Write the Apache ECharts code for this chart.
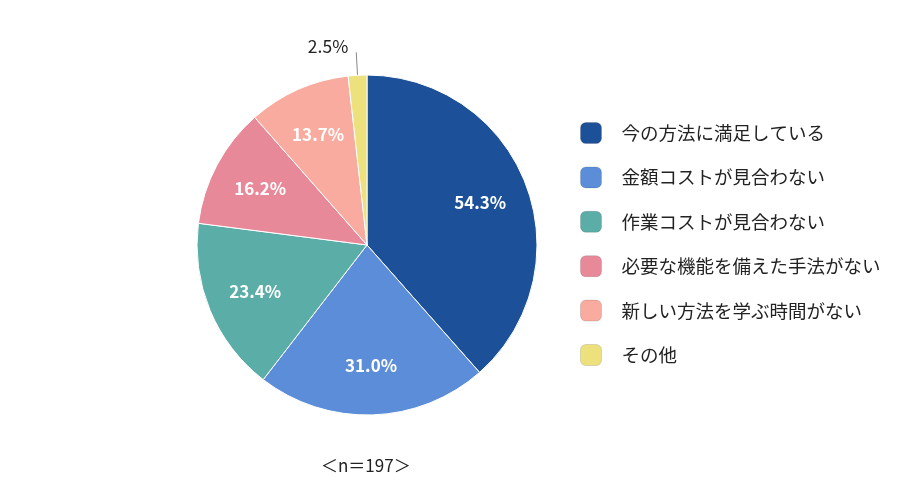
<!DOCTYPE html>
<html><head><meta charset="utf-8">
<script src="https://cdn.jsdelivr.net/npm/echarts@6/dist/echarts.min.js"></script>
<style>html,body{margin:0;padding:0;background:#fff}#c{width:900px;height:503px}</style>
</head><body><div id="c"></div>
<script>
const categories = ['今の方法に満足している','金額コストが見合わない','作業コストが見合わない','必要な機能を備えた手法がない','新しい方法を学ぶ時間がない','その他'];
const values = [54.3, 31.0, 23.4, 16.2, 13.7, 2.5];
const colors = ['#1c5199','#5b8dd8','#5bada7','#e8899a','#f9aba0','#ede17d'];
const note = '＜n＝197＞';

const chart = echarts.init(document.getElementById('c'));
const font = '"Noto Sans CJK JP", "Noto Sans", sans-serif';
const center = [367, 245];
const R = 170;

const mainData = categories.map((name, i) => ({
  name, value: values[i],
  itemStyle: { color: colors[i] },
  label: { show: i === categories.length - 1 },
  labelLine: { show: i === categories.length - 1 }
}));
const overlayData = categories.map((name, i) => ({
  name, value: values[i],
  label: { show: i !== categories.length - 1 }
}));

chart.setOption({
  animation: false,
  textStyle: { fontFamily: font },
  legend: {
    orient: 'vertical', left: 575, top: 117,
    itemWidth: 21, itemHeight: 21, itemGap: 22.4,
    icon: 'roundRect',
    data: categories,
    itemStyle: { borderColor: 'rgba(0,0,0,0.12)', borderWidth: 1 },
    textStyle: { fontSize: 18.5, lineHeight: 21, color: '#222', fontFamily: font, padding: [0, 0, 0, 15] }
  },
  graphic: [{
    type: 'text', left: 367 - 46, top: 457,
    style: { text: note, fontSize: 17, fill: '#222', fontFamily: font }
  }],
  series: [{
    type: 'pie', center, radius: [0, R], startAngle: 90, clockwise: true,
    data: mainData,
    itemStyle: { borderColor: '#fff', borderWidth: 1 },
    label: {
      position: 'outside', formatter: p => p.value.toFixed(1) + '%',
      fontSize: 17.5, color: '#222', fontFamily: font,
      padding: [0, 8, 0, 0], distanceToLabelLine: 0
    },
    labelLine: { length: 23, length2: 0, lineStyle: { color: '#888', width: 1 } },
    labelLayout: p => (p.dataIndex === categories.length - 1 ? { dy: -6 } : {}),
    emphasis: { disabled: true }
  }, {
    type: 'pie', center, radius: [0, 236], startAngle: 90, clockwise: true,
    data: overlayData, legendHoverLink: false, silent: true,
    itemStyle: { color: 'rgba(0,0,0,0)' },
    label: {
      position: 'inside', formatter: p => p.value.toFixed(1) + '%',
      fontSize: 17, fontWeight: 'bold', color: '#fff', fontFamily: font
    },
    labelLine: { show: false },
    emphasis: { disabled: true },
    tooltip: { show: false }
  }]
});
</script></body></html>
